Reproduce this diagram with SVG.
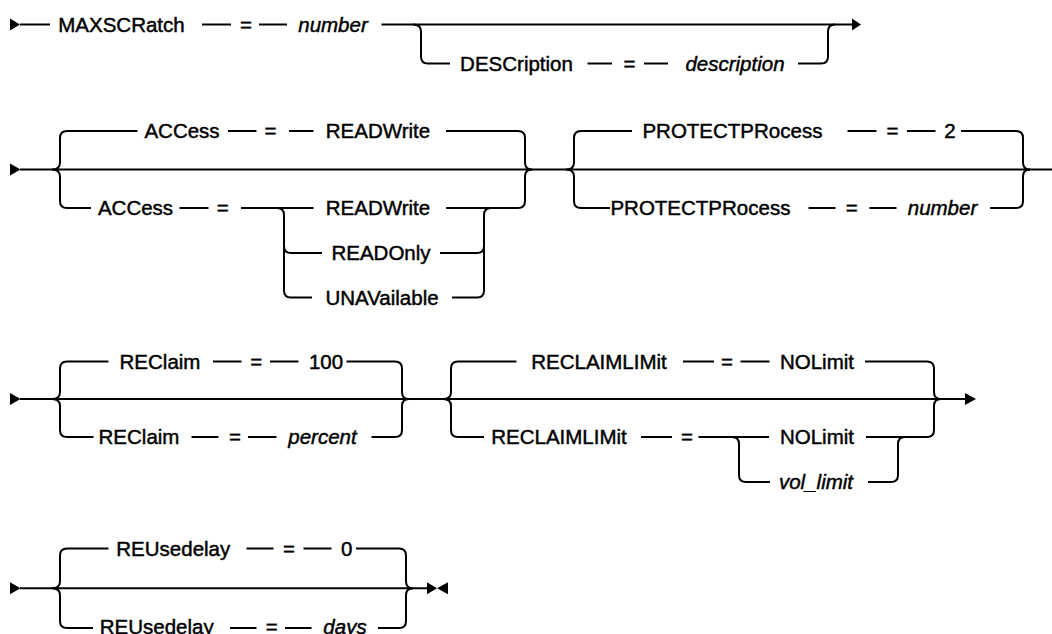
<svg xmlns="http://www.w3.org/2000/svg" width="1052" height="634" viewBox="0 0 1052 634">
<style>
.ln{stroke:#000;stroke-width:2;fill:none;stroke-linejoin:round}
.ah{fill:#000;stroke:none}
.t{font-family:"Liberation Sans",Arial,sans-serif;font-size:20.5px;fill:#000;stroke:#000;stroke-width:0.45px;text-anchor:middle}
.i{font-style:italic}
</style>
<rect width="1052" height="634" fill="#fff"/>
<g id="connectors">
<!-- Row 1 -->
<polygon class="ah" points="10,18.5 20,24.5 10,30.5"/>
<path class="ln" d="M20 24.5H50M202 24.5H231M259 24.5H287M381.5 24.5H852"/>
<path class="ln" d="M413 24.5Q421 24.5 421 31.5V56.5Q421 63.5 428 63.5H450M587.5 63.5H612M644 63.5H668M798 63.5H821Q828 63.5 828 56.5V31.5Q828 24.5 835 24.5"/>
<polygon class="ah" points="852,18.5 861,24.5 852,30.5"/>
<!-- Row 2 -->
<polygon class="ah" points="10,163.5 20.5,169.5 10,175.5"/>
<path class="ln" d="M20 169.5H1052"/>
<path class="ln" d="M52 169.5Q60 169.5 60 162.5V138Q60 131 67 131H137.5M52 169.5Q60 169.5 60 176.5V201Q60 208 67 208H91"/>
<path class="ln" d="M228 131H256.5M289 131H313.5M446 131H518Q525 131 525 138V162.5Q525 169.5 532 169.5"/>
<path class="ln" d="M179.5 208H208.5M241 208H313.5M446 208H518Q525 208 525 201V176.5Q525 169.5 532 169.5"/>
<path class="ln" d="M277 208Q284 208 284 215V290.5Q284 297.5 291 297.5H312M284 246Q284 253 291 253H322"/>
<path class="ln" d="M440 253H477Q484 253 484 246V215Q484 208 491 208M452 297.5H477Q484 297.5 484 290.5V246"/>
<path class="ln" d="M566 169.5Q574 169.5 574 162.5V138Q574 131 581 131H632M566 169.5Q574 169.5 574 176.5V201Q574 208 581 208H610"/>
<path class="ln" d="M847.5 131H876.5M907 131H935.5M961 131H1016Q1023 131 1023 138V162.5Q1023 169.5 1030 169.5"/>
<path class="ln" d="M808.5 208H835.5M869.5 208H896.5M990 208H1016Q1023 208 1023 201V176.5Q1023 169.5 1030 169.5"/>
<!-- Row 3 -->
<polygon class="ah" points="10,393 20.5,399 10,405"/>
<path class="ln" d="M20 399H965"/>
<polygon class="ah" points="965,393 976,399 965,405"/>
<path class="ln" d="M52 399Q60 399 60 392V368.5Q60 361.5 67 361.5H108.5M52 399Q60 399 60 406V430Q60 437 67 437H93.5"/>
<path class="ln" d="M213 361.5H241.5M270 361.5H298.5M346.5 361.5H395Q402 361.5 402 368.5V392Q402 399 409 399"/>
<path class="ln" d="M191.5 437H218.5M248 437H276.5M371.5 437H395Q402 437 402 430V406Q402 399 409 399"/>
<path class="ln" d="M443 399Q451 399 451 392V368.5Q451 361.5 458 361.5H516.5M443 399Q451 399 451 406V430Q451 437 458 437H484"/>
<path class="ln" d="M683 361.5H714M740.5 361.5H769.5M865 361.5H927Q934 361.5 934 368.5V392Q934 399 941 399"/>
<path class="ln" d="M641 437H672M698.5 437H769M866 437H927Q934 437 934 430V406Q934 399 941 399"/>
<path class="ln" d="M732 437Q739 437 739 444V475Q739 482 746 482H770M868 482H891Q898 482 898 475V444Q898 437 905 437"/>
<!-- Row 4 -->
<polygon class="ah" points="10,582.3 20.5,588.3 10,594.3"/>
<path class="ln" d="M20 588.3H427"/>
<path class="ln" d="M52 588.3Q60 588.3 60 581.3V555.5Q60 548.5 67 548.5H108.5M52 588.3Q60 588.3 60 595.3V621Q60 628 67 628H93"/>
<path class="ln" d="M246.5 548.5H273.5M303.5 548.5H331.5M356 548.5H399Q406 548.5 406 555.5V581.3Q406 588.3 413 588.3"/>
<path class="ln" d="M230 628H256.5M285 628H311.5M378 628H399Q406 628 406 621V595.3Q406 588.3 413 588.3"/>
<polygon class="ah" points="427,582.3 437,588.3 427,594.3"/>
<polygon class="ah" points="448,582.3 437,588.3 448,594.3"/>
</g>
<g id="n-maxscratch"><text class="t" x="121.5" y="31.8">MAXSCRatch</text><text class="t" x="246" y="31.8">=</text><text class="t i" x="333" y="31.8">number</text></g>
<g id="n-description"><text class="t" x="516.5" y="70.8">DESCription</text><text class="t" x="629.5" y="70.8">=</text><text class="t i" x="735" y="70.8">description</text></g>
<g id="n-access-default"><text class="t" x="182" y="138.3">ACCess</text><text class="t" x="270.6" y="138.3">=</text><text class="t" x="378" y="138.3">READWrite</text></g>
<g id="n-access"><text class="t" x="135.5" y="215.3">ACCess</text><text class="t" x="222.8" y="215.3">=</text><text class="t" x="378" y="215.3">READWrite</text><text class="t" x="381" y="260.3">READOnly</text><text class="t" x="382" y="304.8">UNAVailable</text></g>
<g id="n-protect-default"><text class="t" x="732.4" y="138.3">PROTECTPRocess</text><text class="t" x="892.5" y="138.3">=</text><text class="t" x="950" y="138.3">2</text></g>
<g id="n-protect"><text class="t" x="700.4" y="215.3">PROTECTPRocess</text><text class="t" x="851.8" y="215.3">=</text><text class="t i" x="942.5" y="215.3">number</text></g>
<g id="n-reclaim-default"><text class="t" x="160" y="368.8">REClaim</text><text class="t" x="256.2" y="368.8">=</text><text class="t" x="326" y="368.8">100</text></g>
<g id="n-reclaim"><text class="t" x="139" y="444.3">REClaim</text><text class="t" x="235" y="444.3">=</text><text class="t i" x="322.5" y="444.3">percent</text></g>
<g id="n-reclaimlimit-default"><text class="t" x="599" y="368.8">RECLAIMLIMit</text><text class="t" x="727" y="368.8">=</text><text class="t" x="817" y="368.8">NOLimit</text></g>
<g id="n-reclaimlimit"><text class="t" x="559" y="444.3">RECLAIMLIMit</text><text class="t" x="687" y="444.3">=</text><text class="t" x="817" y="444.3">NOLimit</text><text class="t i" x="816" y="489.3">vol_limit</text></g>
<g id="n-reusedelay-default"><text class="t" x="173.3" y="555.8">REUsedelay</text><text class="t" x="289" y="555.8">=</text><text class="t" x="346.7" y="555.8">0</text></g>
<g id="n-reusedelay"><text class="t" x="156.7" y="634">REUsedelay</text><text class="t" x="271.7" y="634">=</text><text class="t i" x="345" y="634">days</text></g>
</svg>
